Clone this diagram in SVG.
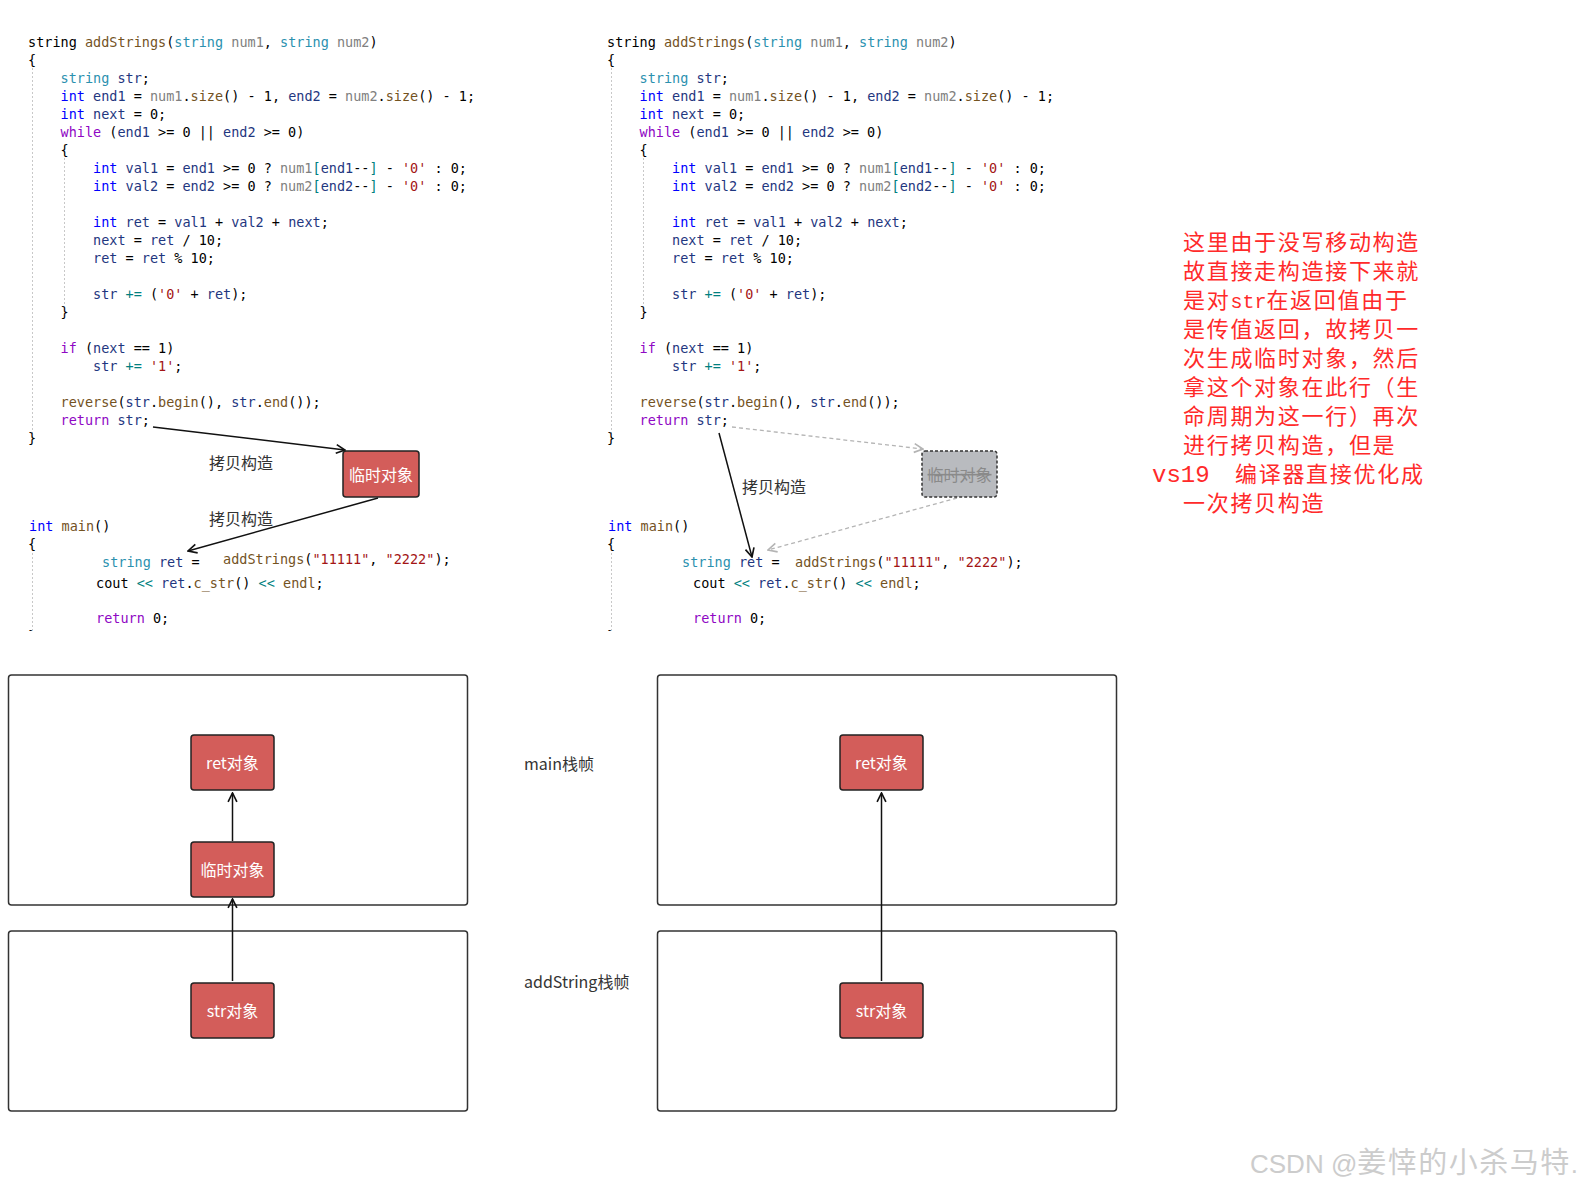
<svg xmlns="http://www.w3.org/2000/svg" width="1589" height="1192" viewBox="0 0 1589 1192">
<style>
.code{font-family:"DejaVu Sans Mono","Liberation Mono",monospace;font-size:13.5px;fill:#000}
.k{fill:#0000ff}.c{fill:#8f08c4}.t{fill:#2b91af}.f{fill:#74531f}.p{fill:#808080}.v{fill:#1f377f}.s{fill:#a31515}.o{fill:#008080}
.guide{stroke:#c8c8c8;stroke-width:1;stroke-dasharray:2 2;fill:none}
.frame{fill:none;stroke:#333;stroke-width:1.5}
.node rect{fill:#d35d5a;stroke:#222;stroke-width:1.5}
.node text{font-family:"Noto Sans CJK SC","Noto Sans",sans-serif;font-size:16px;fill:#fff;text-anchor:middle;dominant-baseline:central}
.lbl{font-family:"Noto Sans CJK SC","Noto Sans",sans-serif;font-size:16px;fill:#333}
.arr{stroke:#111;stroke-width:1.5;fill:none}
.garr{stroke:#b4b4b4;stroke-width:1.3;fill:none;stroke-dasharray:4 3}
.note{font-family:"Noto Sans CJK SC",sans-serif;font-size:22px;letter-spacing:1.7px;fill:#ff2a2a}
.lat{font-family:"Liberation Mono",monospace;letter-spacing:0}
</style>
<defs>
<marker id="ah" viewBox="0 0 10 10" refX="9" refY="5" markerWidth="11" markerHeight="11" markerUnits="userSpaceOnUse" orient="auto"><path d="M1,1 L9,5 L1,9" fill="none" stroke="#111" stroke-width="1.5"/></marker>
<marker id="gah" viewBox="0 0 10 10" refX="9" refY="5" markerWidth="11" markerHeight="11" markerUnits="userSpaceOnUse" orient="auto"><path d="M1,1 L9,5 L1,9" fill="none" stroke="#b4b4b4" stroke-width="1.5"/></marker>
<clipPath id="cut"><rect x="0" y="0" width="1589" height="631"/></clipPath>
</defs>
<rect width="1589" height="1192" fill="#fff"/>

<!-- guides -->
<g id="guides">
<line class="guide" x1="32.5" y1="68" x2="32.5" y2="440"/>
<line class="guide" x1="64.5" y1="158" x2="64.5" y2="305"/>
<line class="guide" x1="32.5" y1="553" x2="32.5" y2="630"/>
<line class="guide" x1="611.5" y1="68" x2="611.5" y2="440"/>
<line class="guide" x1="643.5" y1="158" x2="643.5" y2="305"/>
<line class="guide" x1="611.5" y1="553" x2="611.5" y2="630"/>
</g>

<!-- left code -->
<g id="code-left" class="code" xml:space="preserve">
<text x="28" y="47">string <tspan class="f">addStrings</tspan>(<tspan class="t">string</tspan> <tspan class="p">num1</tspan>, <tspan class="t">string</tspan> <tspan class="p">num2</tspan>)</text>
<text x="28" y="65">{</text>
<text x="60.5" y="83"><tspan class="t">string</tspan> <tspan class="v">str</tspan>;</text>
<text x="60.5" y="101"><tspan class="k">int</tspan> <tspan class="v">end1</tspan> = <tspan class="p">num1</tspan>.<tspan class="f">size</tspan>() - 1, <tspan class="v">end2</tspan> = <tspan class="p">num2</tspan>.<tspan class="f">size</tspan>() - 1;</text>
<text x="60.5" y="119"><tspan class="k">int</tspan> <tspan class="v">next</tspan> = 0;</text>
<text x="60.5" y="137"><tspan class="c">while</tspan> (<tspan class="v">end1</tspan> &gt;= 0 || <tspan class="v">end2</tspan> &gt;= 0)</text>
<text x="60.5" y="155">{</text>
<text x="93" y="173"><tspan class="k">int</tspan> <tspan class="v">val1</tspan> = <tspan class="v">end1</tspan> &gt;= 0 ? <tspan class="p">num1</tspan><tspan class="o">[</tspan><tspan class="v">end1</tspan>--<tspan class="o">]</tspan> - <tspan class="s">'0'</tspan> : 0;</text>
<text x="93" y="191"><tspan class="k">int</tspan> <tspan class="v">val2</tspan> = <tspan class="v">end2</tspan> &gt;= 0 ? <tspan class="p">num2</tspan><tspan class="o">[</tspan><tspan class="v">end2</tspan>--<tspan class="o">]</tspan> - <tspan class="s">'0'</tspan> : 0;</text>
<text x="93" y="227"><tspan class="k">int</tspan> <tspan class="v">ret</tspan> = <tspan class="v">val1</tspan> + <tspan class="v">val2</tspan> + <tspan class="v">next</tspan>;</text>
<text x="93" y="245"><tspan class="v">next</tspan> = <tspan class="v">ret</tspan> / 10;</text>
<text x="93" y="263"><tspan class="v">ret</tspan> = <tspan class="v">ret</tspan> % 10;</text>
<text x="93" y="299"><tspan class="v">str</tspan> <tspan class="o">+=</tspan> (<tspan class="s">'0'</tspan> + <tspan class="v">ret</tspan>);</text>
<text x="60.5" y="317">}</text>
<text x="60.5" y="353"><tspan class="c">if</tspan> (<tspan class="v">next</tspan> == 1)</text>
<text x="93" y="371"><tspan class="v">str</tspan> <tspan class="o">+=</tspan> <tspan class="s">'1'</tspan>;</text>
<text x="60.5" y="407"><tspan class="f">reverse</tspan>(<tspan class="v">str</tspan>.<tspan class="f">begin</tspan>(), <tspan class="v">str</tspan>.<tspan class="f">end</tspan>());</text>
<text x="60.5" y="425"><tspan class="c">return</tspan> <tspan class="v">str</tspan>;</text>
<text x="28" y="443">}</text>
<text x="29" y="531"><tspan class="k">int</tspan> <tspan class="f">main</tspan>()</text>
<text x="28" y="549">{</text>
<text x="102" y="567"><tspan class="t">string</tspan> <tspan class="v">ret</tspan> = </text>
<text x="223" y="564"><tspan class="f">addStrings</tspan>(<tspan class="s">"11111"</tspan>, <tspan class="s">"2222"</tspan>);</text>
<text x="96" y="588">cout <tspan class="o">&lt;&lt;</tspan> <tspan class="v">ret</tspan>.<tspan class="f">c_str</tspan>() <tspan class="o">&lt;&lt;</tspan> <tspan class="f">endl</tspan>;</text>
<text x="96" y="623"><tspan class="c">return</tspan> 0;</text>
<text x="28" y="641" clip-path="url(#cut)">}</text>
</g>

<!-- right code -->
<g id="code-right" class="code" xml:space="preserve">
<text x="607" y="47">string <tspan class="f">addStrings</tspan>(<tspan class="t">string</tspan> <tspan class="p">num1</tspan>, <tspan class="t">string</tspan> <tspan class="p">num2</tspan>)</text>
<text x="607" y="65">{</text>
<text x="639.5" y="83"><tspan class="t">string</tspan> <tspan class="v">str</tspan>;</text>
<text x="639.5" y="101"><tspan class="k">int</tspan> <tspan class="v">end1</tspan> = <tspan class="p">num1</tspan>.<tspan class="f">size</tspan>() - 1, <tspan class="v">end2</tspan> = <tspan class="p">num2</tspan>.<tspan class="f">size</tspan>() - 1;</text>
<text x="639.5" y="119"><tspan class="k">int</tspan> <tspan class="v">next</tspan> = 0;</text>
<text x="639.5" y="137"><tspan class="c">while</tspan> (<tspan class="v">end1</tspan> &gt;= 0 || <tspan class="v">end2</tspan> &gt;= 0)</text>
<text x="639.5" y="155">{</text>
<text x="672" y="173"><tspan class="k">int</tspan> <tspan class="v">val1</tspan> = <tspan class="v">end1</tspan> &gt;= 0 ? <tspan class="p">num1</tspan><tspan class="o">[</tspan><tspan class="v">end1</tspan>--<tspan class="o">]</tspan> - <tspan class="s">'0'</tspan> : 0;</text>
<text x="672" y="191"><tspan class="k">int</tspan> <tspan class="v">val2</tspan> = <tspan class="v">end2</tspan> &gt;= 0 ? <tspan class="p">num2</tspan><tspan class="o">[</tspan><tspan class="v">end2</tspan>--<tspan class="o">]</tspan> - <tspan class="s">'0'</tspan> : 0;</text>
<text x="672" y="227"><tspan class="k">int</tspan> <tspan class="v">ret</tspan> = <tspan class="v">val1</tspan> + <tspan class="v">val2</tspan> + <tspan class="v">next</tspan>;</text>
<text x="672" y="245"><tspan class="v">next</tspan> = <tspan class="v">ret</tspan> / 10;</text>
<text x="672" y="263"><tspan class="v">ret</tspan> = <tspan class="v">ret</tspan> % 10;</text>
<text x="672" y="299"><tspan class="v">str</tspan> <tspan class="o">+=</tspan> (<tspan class="s">'0'</tspan> + <tspan class="v">ret</tspan>);</text>
<text x="639.5" y="317">}</text>
<text x="639.5" y="353"><tspan class="c">if</tspan> (<tspan class="v">next</tspan> == 1)</text>
<text x="672" y="371"><tspan class="v">str</tspan> <tspan class="o">+=</tspan> <tspan class="s">'1'</tspan>;</text>
<text x="639.5" y="407"><tspan class="f">reverse</tspan>(<tspan class="v">str</tspan>.<tspan class="f">begin</tspan>(), <tspan class="v">str</tspan>.<tspan class="f">end</tspan>());</text>
<text x="639.5" y="425"><tspan class="c">return</tspan> <tspan class="v">str</tspan>;</text>
<text x="607" y="443">}</text>
<text x="608" y="531"><tspan class="k">int</tspan> <tspan class="f">main</tspan>()</text>
<text x="607" y="549">{</text>
<text x="682" y="567"><tspan class="t">string</tspan> <tspan class="v">ret</tspan> = </text>
<text x="795" y="567"><tspan class="f">addStrings</tspan>(<tspan class="s">"11111"</tspan>, <tspan class="s">"2222"</tspan>);</text>
<text x="693" y="588">cout <tspan class="o">&lt;&lt;</tspan> <tspan class="v">ret</tspan>.<tspan class="f">c_str</tspan>() <tspan class="o">&lt;&lt;</tspan> <tspan class="f">endl</tspan>;</text>
<text x="693" y="623"><tspan class="c">return</tspan> 0;</text>
<text x="607" y="641" clip-path="url(#cut)">}</text>
</g>

<!-- stack frames -->
<g id="frames">
<rect class="frame" x="8.5" y="675" width="459" height="230" rx="3"/>
<rect class="frame" x="8.5" y="931" width="459" height="180" rx="3"/>
<rect class="frame" x="657.5" y="675" width="459" height="230" rx="3"/>
<rect class="frame" x="657.5" y="931" width="459" height="180" rx="3"/>
<text class="lbl" x="524" y="770" font-size="17">main栈帧</text>
<text class="lbl" x="524" y="988" font-size="17">addString栈帧</text>
</g>

<!-- connectors -->
<g id="connectors">
<line class="arr" x1="153" y1="427" x2="345" y2="450" marker-end="url(#ah)"/>
<line class="arr" x1="378" y1="498" x2="188" y2="551" marker-end="url(#ah)"/>
<line class="garr" x1="732" y1="427" x2="923" y2="449" marker-end="url(#gah)"/>
<line class="garr" x1="957" y1="498" x2="768" y2="550" marker-end="url(#gah)"/>
<line class="arr" x1="719" y1="433" x2="752" y2="557" marker-end="url(#ah)"/>
<line class="arr" x1="232.5" y1="981" x2="232.5" y2="899" marker-end="url(#ah)"/>
<line class="arr" x1="232.5" y1="841" x2="232.5" y2="793" marker-end="url(#ah)"/>
<line class="arr" x1="881.5" y1="981" x2="881.5" y2="793" marker-end="url(#ah)"/>
<text class="lbl" x="209" y="469">拷贝构造</text>
<text class="lbl" x="209" y="525">拷贝构造</text>
<text class="lbl" x="742" y="493">拷贝构造</text>
</g>

<!-- nodes -->
<g id="tmp-left" class="node"><rect x="343" y="451" width="76" height="46" rx="3"/><text x="381" y="474">临时对象</text></g>
<g id="tmp-right"><rect x="922" y="451" width="75" height="46" rx="3" fill="#b9bbbf" stroke="#333" stroke-width="1.5" stroke-dasharray="3 2"/><text x="959.5" y="474" font-family="Noto Sans CJK SC,sans-serif" font-size="16" fill="#8a8a8a" text-anchor="middle" dominant-baseline="central" text-decoration="line-through">临时对象</text></g>
<g id="ret-left" class="node"><rect x="191" y="735" width="83" height="55" rx="3"/><text x="232.5" y="762">ret对象</text></g>
<g id="tmp-main-left" class="node"><rect x="191" y="842" width="83" height="55" rx="3"/><text x="232.5" y="869">临时对象</text></g>
<g id="str-left" class="node"><rect x="191" y="983" width="83" height="55" rx="3"/><text x="232.5" y="1010">str对象</text></g>
<g id="ret-right" class="node"><rect x="840" y="735" width="83" height="55" rx="3"/><text x="881.5" y="762">ret对象</text></g>
<g id="str-right" class="node"><rect x="840" y="983" width="83" height="55" rx="3"/><text x="881.5" y="1010">str对象</text></g>

<!-- note -->
<g id="note" class="note">
<text x="1183" y="250">这里由于没写移动构造</text>
<text x="1183" y="279">故直接走构造接下来就</text>
<text x="1183" y="308">是对<tspan class="lat" font-size="20">str</tspan>在返回值由于</text>
<text x="1183" y="337">是传值返回，故拷贝一</text>
<text x="1183" y="366">次生成临时对象，然后</text>
<text x="1183" y="395">拿这个对象在此行（生</text>
<text x="1183" y="424">命周期为这一行）再次</text>
<text x="1183" y="453">进行拷贝构造，但是</text>
<text x="1152" y="482"><tspan class="lat" font-size="24">vs19</tspan></text>
<text x="1235" y="482">编译器直接优化成</text>
<text x="1183" y="511">一次拷贝构造</text>
</g>

<text x="1250" y="1173" font-family="Liberation Sans,Noto Sans CJK SC,sans-serif" font-size="26" fill="#cccccc">CSDN @<tspan font-family="Noto Sans CJK SC,sans-serif" font-size="29" letter-spacing="1.5">姜悻的小杀马特</tspan>.</text>
</svg>
